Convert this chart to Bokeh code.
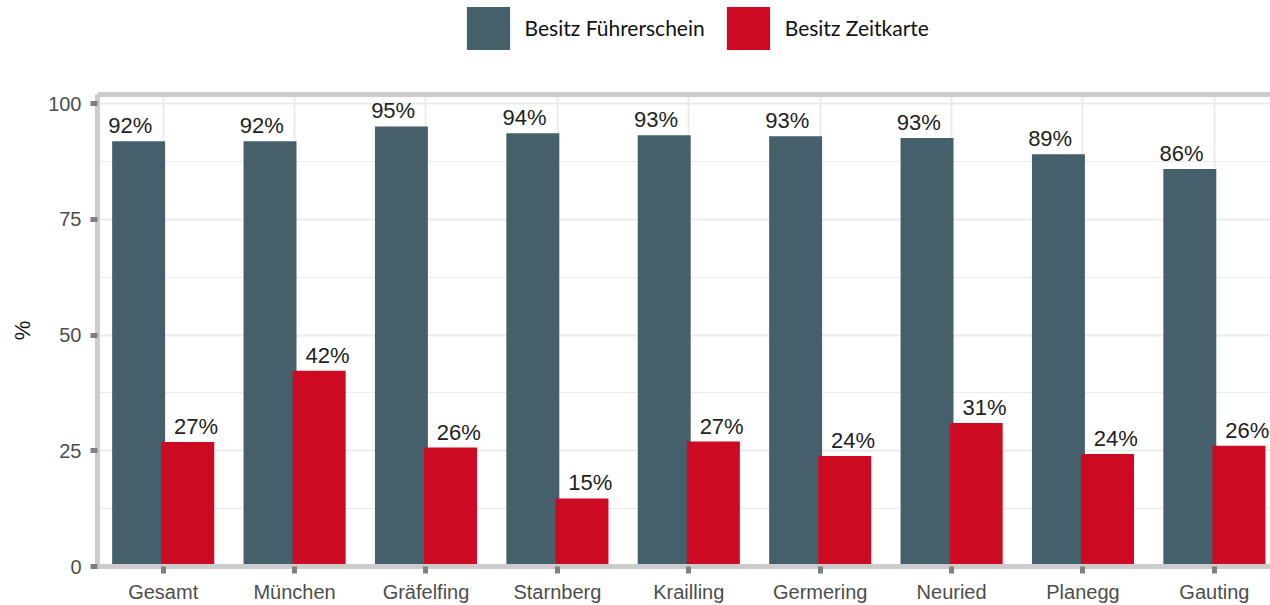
import numpy as np
from bokeh.plotting import figure
from bokeh.layouts import column
from bokeh.models import (ColumnDataSource, Range1d, FixedTicker, LinearAxis, Legend,
                          LegendItem, LabelSet)
from bokeh.core.properties import value
from bokeh.embed import file_html
from bokeh.resources import INLINE

# ---- data ----
categories = ["Gesamt", "München", "Gräfelfing", "Starnberg", "Krailling",
              "Germering", "Neuried", "Planegg", "Gauting"]
fuehrerschein = [91.9, 91.9, 95.1, 93.6, 93.2, 93.0, 92.6, 89.1, 85.9]
zeitkarte = [26.9, 42.3, 25.7, 14.7, 27.0, 23.9, 31.0, 24.3, 26.1]
fuehrerschein_labels = ["92%", "92%", "95%", "94%", "93%", "93%", "93%", "89%", "86%"]
zeitkarte_labels = ["27%", "42%", "26%", "15%", "27%", "24%", "31%", "24%", "26%"]
series_names = ["Besitz Führerschein", "Besitz Zeitkarte"]
y_ticks = [0, 25, 50, 75, 100]
y_minor = [12.5, 37.5, 62.5, 87.5]

BLUE = "#455f6b"
RED = "#cc0a21"
FONT = "Liberation Sans"
W = 1270

xpos = np.arange(len(categories), dtype=float)
bar_off = 0.187
bar_w = 0.403
lab_off = 0.25

src_f = ColumnDataSource(dict(x=xpos - bar_off, top=fuehrerschein,
                              lx=xpos - lab_off, txt=fuehrerschein_labels))
src_z = ColumnDataSource(dict(x=xpos + bar_off, top=zeitkarte,
                              lx=xpos + lab_off, txt=zeitkarte_labels))

# ---------------- legend strip ----------------
lg = figure(width=W, height=88, output_backend="svg", toolbar_location=None,
            x_axis_type=None, y_axis_type=None,
            x_range=Range1d(0, 1), y_range=Range1d(0, 1),
            min_border_left=0, min_border_right=0, min_border_top=0, min_border_bottom=0)
lg.outline_line_color = None
lg.xgrid.visible = False
lg.ygrid.visible = False
# zero-height placeholder bars that only carry the legend swatch colours
dummy = ColumnDataSource(dict(x=[-5.0], top=[0.0]))
d1 = lg.vbar(x="x", top="top", bottom=0, width=0.001, source=dummy,
             fill_color=BLUE, line_color=None)
d2 = lg.vbar(x="x", top="top", bottom=0, width=0.001, source=dummy,
             fill_color=RED, line_color=None)
legend = Legend(items=[LegendItem(label=series_names[0], renderers=[d1]),
                       LegendItem(label=series_names[1], renderers=[d2])],
                orientation="horizontal", location=(363.6, 33.5),
                glyph_width=54, glyph_height=54, label_standoff=10, spacing=16,
                padding=0, margin=0, border_line_color=None,
                background_fill_alpha=0, label_text_font="Lato",
                label_text_font_size="21px", label_text_color="#111111")
lg.add_layout(legend, "center")

# ---------------- main chart ----------------
p = figure(width=W, height=517, output_backend="svg", toolbar_location=None,
           x_range=Range1d(-0.5, 8.427), y_range=Range1d(0, 102.0),
           min_border_left=97, min_border_right=0, min_border_top=6,
           min_border_bottom=34)
p.outline_line_color = None

p.vbar(x="x", top="top", width=bar_w, bottom=0, source=src_f,
       fill_color=BLUE, line_color=None)
p.vbar(x="x", top="top", width=bar_w, bottom=0, source=src_z,
       fill_color=RED, line_color=None)

for src in (src_f, src_z):
    p.add_layout(LabelSet(x="lx", y="top", text="txt", source=src, y_offset=8,
                          text_align="center", text_baseline="alphabetic",
                          text_font=value(FONT), text_font_size=value("22px"),
                          text_color="#222222"))

xax = p.xaxis[0]
xax.ticker = FixedTicker(ticks=list(xpos))
xax.major_label_overrides = {float(i): c for i, c in zip(xpos, categories)}
xax.major_label_text_font = FONT
xax.major_label_text_font_size = "20px"
xax.major_label_text_color = "#4d4d4d"
xax.major_label_standoff = 7
xax.axis_line_color = "#cccccc"
xax.axis_line_width = 5
xax.major_tick_line_color = "#808080"
xax.major_tick_line_width = 5
xax.major_tick_out = 7
xax.major_tick_in = 0
xax.minor_tick_line_color = None

yax = p.yaxis[0]
yax.ticker = FixedTicker(ticks=y_ticks, minor_ticks=y_minor)
yax.axis_label = "%"
yax.axis_label_text_font = FONT
yax.axis_label_text_font_size = "22px"
yax.axis_label_text_font_style = "normal"
yax.axis_label_text_color = "#111111"
yax.axis_label_standoff = 10
yax.major_label_text_font = FONT
yax.major_label_text_font_size = "20px"
yax.major_label_text_color = "#4d4d4d"
yax.major_label_standoff = 9
yax.axis_line_color = "#cccccc"
yax.axis_line_width = 5
yax.major_tick_line_color = "#808080"
yax.major_tick_line_width = 5
yax.major_tick_out = 7
yax.major_tick_in = 0
yax.minor_tick_line_color = None

top_ax = LinearAxis(axis_line_color="#cccccc", axis_line_width=5,
                    major_tick_line_color=None, minor_tick_line_color=None,
                    major_label_standoff=0)
top_ax.ticker = FixedTicker(ticks=[])
p.add_layout(top_ax, "above")

p.xgrid.ticker = FixedTicker(ticks=list(xpos))
p.xgrid.grid_line_color = "#ebebeb"
p.xgrid.grid_line_width = 2
p.ygrid.ticker = FixedTicker(ticks=y_ticks, minor_ticks=y_minor)
p.ygrid.grid_line_color = "#ebebeb"
p.ygrid.grid_line_width = 2
p.ygrid.minor_grid_line_color = "#ebebeb"
p.ygrid.minor_grid_line_width = 1

layout = column(lg, p, spacing=0)
open("out.html", "w").write(file_html(layout, INLINE))
